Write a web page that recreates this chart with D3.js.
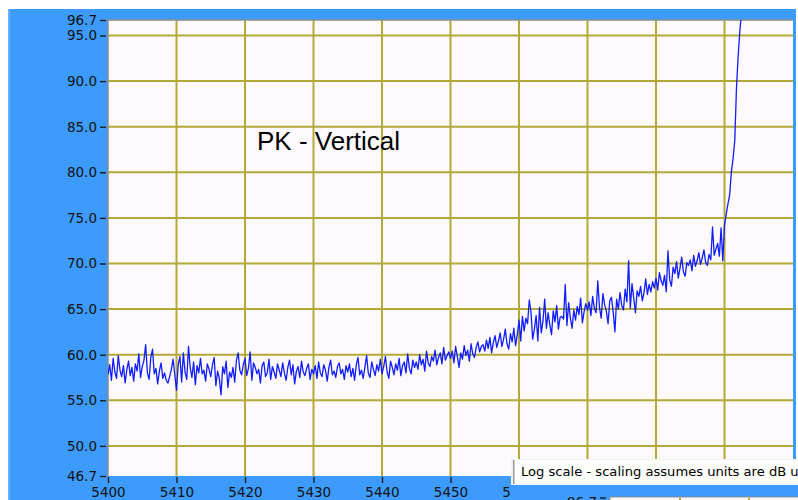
<!DOCTYPE html>
<html>
<head>
<meta charset="utf-8">
<script src="https://cdn.jsdelivr.net/npm/d3@7/dist/d3.min.js"></script>
<style>
html,body{margin:0;padding:0;background:#fff;overflow:hidden;}
svg{display:block;}
</style>
</head>
<body>
<svg id="chart" width="798" height="500"></svg>
<script>
// ---- data ----
const title = "PK - Vertical";
const tooltipText = "Log scale - scaling assumes units are dB units";
const xStart = 5400;      // frequency of first sample
const xStep = 0.25;       // sample spacing
const xTicks = [5400, 5410, 5420, 5430, 5440, 5450, 5460, 5470, 5480, 5490, 5500];
const xLabelled = [5400, 5410, 5420, 5430, 5440, 5450, 5460];
const yTicks = [46.7, 50, 55, 60, 65, 70, 75, 80, 85, 90, 95, 96.7];
const yGrid = [50, 55, 60, 65, 70, 75, 80, 85, 90, 95];
const amplitude = [
// 5400-5405
57.8,58.9,57.2,59.6,58.1,57.4,59.9,58.3,57.6,58.8,56.9,58.4,59.3,57.7,58.6,57.1,59.0,58.2,60.1,57.5,
// 5405-5410
58.7,59.4,61.1,58.0,57.3,59.7,60.6,57.9,58.5,56.8,58.2,59.1,57.4,58.0,57.2,56.9,57.6,58.4,59.5,57.8,
// 5410-5415
56.1,58.9,59.8,57.0,60.2,58.1,57.3,60.9,58.6,57.5,59.2,56.7,58.8,58.0,59.6,57.9,58.3,57.1,59.0,58.4,
// 5415-5420
57.6,58.9,59.7,56.6,58.2,57.4,55.6,58.7,57.9,59.3,56.4,58.1,57.5,58.6,57.0,59.4,60.2,58.3,57.8,58.9,
// 5420-5425
59.6,57.7,58.5,60.3,57.2,59.1,58.6,57.9,58.4,56.9,58.8,59.2,57.6,58.0,59.5,57.3,58.7,58.1,57.4,59.0,
// 5425-5430
58.3,57.6,59.1,58.0,57.2,58.6,59.4,57.8,58.9,56.8,58.2,58.7,57.5,59.3,58.1,57.7,58.5,59.0,57.3,58.4,
// 5430-5435
57.9,58.8,57.4,59.2,58.0,57.6,58.9,58.3,57.1,58.6,59.4,57.8,58.2,57.5,58.7,59.1,57.9,58.4,57.3,58.8,
// 5435-5440
58.1,59.0,57.6,58.5,57.2,58.9,59.7,57.8,58.3,57.4,58.6,59.9,58.0,57.5,59.2,58.4,57.7,58.9,58.2,59.5,
// 5440-5445
57.9,58.7,59.8,58.1,57.4,59.3,58.6,57.8,59.0,58.3,59.6,57.7,58.8,59.2,58.0,60.1,58.5,57.9,59.4,58.6,
// 5445-5450
59.2,58.4,60.0,58.9,59.5,58.2,60.4,59.1,58.7,59.8,59.3,60.5,58.9,59.7,60.2,59.0,60.8,59.4,59.9,60.3,
// 5450-5455
59.6,60.4,59.1,60.9,59.8,58.6,60.2,59.5,61.0,59.9,60.5,59.3,61.2,60.1,59.7,60.8,61.4,60.3,60.9,61.1,
// 5455-5460
60.4,61.6,60.7,61.9,60.2,61.3,62.1,60.8,61.5,62.4,60.9,61.7,62.8,61.2,60.6,62.3,61.4,62.9,61.0,62.2,
// 5460-5465
63.8,61.5,64.2,62.6,64.0,63.4,66.0,64.7,61.7,62.8,64.3,61.5,65.2,62.4,63.7,66.1,62.9,64.6,63.3,62.2,
// 5465-5470
64.8,63.6,65.4,62.8,64.1,64.2,63.9,67.7,63.2,65.7,64.0,62.9,64.9,63.8,65.3,64.4,66.2,63.5,64.7,65.6,
// 5470-5475
64.9,65.8,64.3,66.4,65.1,64.6,68.1,65.2,64.0,66.7,65.5,64.8,63.4,65.9,66.3,64.7,62.5,66.1,65.0,66.8,
// 5475-5480
65.4,64.9,67.2,65.8,70.3,65.1,67.8,66.2,64.6,67.0,66.4,67.5,65.9,66.8,68.3,66.6,67.7,66.9,68.0,67.3,
// 5480-5485
68.4,67.1,69.0,68.1,67.6,68.7,66.9,71.4,68.2,67.5,69.6,68.9,70.2,68.4,69.5,70.7,69.1,68.6,70.1,69.8,
// 5485-5490
70.4,69.2,70.9,69.7,70.3,71.2,69.9,70.6,71.5,70.1,69.8,71.0,70.4,74.0,70.9,71.6,72.2,70.8,73.9,70.3,
// 5490-5492.5
74.2,75.4,76.5,77.5,80.0,81.5,83.5,89.3,92.8,95.6,97.5
];
const points = amplitude.map((v, i) => ({x: xStart + i * xStep, y: v}));

// ---- layout ----
const svg = d3.select("#chart");
const W = 798, H = 500;
const plot = {left: 108, right: 793, top: 20, bottom: 476};
const panelBlue = "#3c9bfc";
const gridColor = "#b3a936";
const font = "'DejaVu Sans', Verdana, sans-serif";

const x = d3.scaleLinear().domain([5400, 5500]).range([plot.left, plot.right]);
const y = d3.scaleLinear().domain([46.7, 96.7]).range([plot.bottom, plot.top]);

// blue front panel
svg.append("rect").attr("x", 8).attr("y", 9).attr("width", W - 8 - 2).attr("height", H - 9)
  .attr("fill", panelBlue);
svg.append("rect").attr("x", 8).attr("y", 9).attr("width", 2).attr("height", H - 9)
  .attr("fill", "#67b2ff");

// plot background
svg.append("rect").attr("x", plot.left).attr("y", plot.top)
  .attr("width", plot.right - plot.left).attr("height", plot.bottom - plot.top)
  .attr("fill", "#fdf9fd");

// grid
const grid = svg.append("g");
grid.selectAll("line.v").data(xTicks.filter(d => d > 5400 && d < 5500)).join("line")
  .attr("x1", d => x(d)).attr("x2", d => x(d))
  .attr("y1", plot.top).attr("y2", plot.bottom)
  .attr("stroke", gridColor).attr("stroke-width", 2);
grid.selectAll("line.h").data(yGrid).join("line")
  .attr("x1", plot.left).attr("x2", plot.right)
  .attr("y1", d => y(d)).attr("y2", d => y(d))
  .attr("stroke", gridColor).attr("stroke-width", 2);

// plot border (left & top darker)
svg.append("path")
  .attr("d", `M${plot.left},${plot.bottom}V${plot.top}H${plot.right}`)
  .attr("fill", "none").attr("stroke", "#8c8c8c").attr("stroke-width", 1.5);

// clip
svg.append("clipPath").attr("id", "clip").append("rect")
  .attr("x", plot.left).attr("y", plot.top)
  .attr("width", plot.right - plot.left).attr("height", plot.bottom - plot.top);

// title inside plot
svg.append("text").attr("x", 257).attr("y", 150)
  .attr("font-family", "'Liberation Sans', Arial, sans-serif").attr("font-size", 26)
  .attr("fill", "#000").text(title);

// data line
const line = d3.line().x(d => x(d.x)).y(d => y(d.y));
svg.append("path").datum(points)
  .attr("clip-path", "url(#clip)")
  .attr("d", line)
  .attr("fill", "none").attr("stroke", "#0f1dff").attr("stroke-width", 1.3)
  .attr("stroke-linejoin", "round");

// y axis
const yAxis = d3.axisLeft(y).tickValues(yTicks).tickFormat(d3.format(".1f"))
  .tickSize(6).tickPadding(3);
const gy = svg.append("g").attr("transform", `translate(${plot.left - 2},0)`).call(yAxis);
gy.select(".domain").remove();
gy.selectAll("line").attr("stroke", "#111").attr("stroke-width", 1.3);
gy.selectAll("text").attr("font-family", font).attr("font-size", 13.5).attr("fill", "#111");

// x axis (ticks under the overlapping panel are hidden in the reference)
const xAxis = d3.axisBottom(x).tickValues(xLabelled).tickFormat(d3.format("d"))
  .tickSize(6).tickPadding(4);
const gx = svg.append("g").attr("transform", `translate(0,${plot.bottom + 1})`).call(xAxis);
gx.select(".domain").remove();
gx.selectAll("line").attr("stroke", "#111").attr("stroke-width", 1.3);
gx.selectAll("text").attr("font-family", font).attr("font-size", 13.5).attr("fill", "#111");

// second (lower) panel peeking at the bottom right
svg.append("rect").attr("x", 510).attr("y", 485).attr("width", W - 510).attr("height", 15)
  .attr("fill", panelBlue);
svg.append("rect").attr("x", 610).attr("y", 497).attr("width", W - 610).attr("height", 3)
  .attr("fill", "#fdf9fd");
svg.append("path").attr("d", "M610,500V497H798").attr("fill", "none")
  .attr("stroke", "#8c8c8c").attr("stroke-width", 1);
[680, 749].forEach(px => {
  svg.append("line").attr("x1", px).attr("x2", px).attr("y1", 498).attr("y2", 500)
    .attr("stroke", gridColor).attr("stroke-width", 2);
});
svg.append("text").attr("x", 597).attr("y", 507).attr("text-anchor", "end")
  .attr("font-family", font).attr("font-size", 13.5).attr("fill", "#111").text("96.7");
svg.append("line").attr("x1", 600).attr("x2", 606).attr("y1", 498).attr("y2", 498)
  .attr("stroke", "#111").attr("stroke-width", 1.3);

// tooltip
svg.append("rect").attr("x", 511).attr("y", 459).attr("width", W - 511).attr("height", 26)
  .attr("fill", "#f2f2f2");
svg.append("rect").attr("x", 514).attr("y", 460).attr("width", W - 514).attr("height", 24)
  .attr("fill", "#fdfdfb");
svg.append("rect").attr("x", 513).attr("y", 460).attr("width", 1.5).attr("height", 24)
  .attr("fill", "#9a9a9a");
svg.append("clipPath").attr("id", "tipclip").append("rect")
  .attr("x", 514).attr("y", 459).attr("width", W - 514).attr("height", 26);
svg.append("text").attr("x", 521).attr("y", 476).attr("clip-path", "url(#tipclip)")
  .attr("font-family", font).attr("font-size", 13.1).attr("fill", "#000").text(tooltipText);
</script>
</body>
</html>
